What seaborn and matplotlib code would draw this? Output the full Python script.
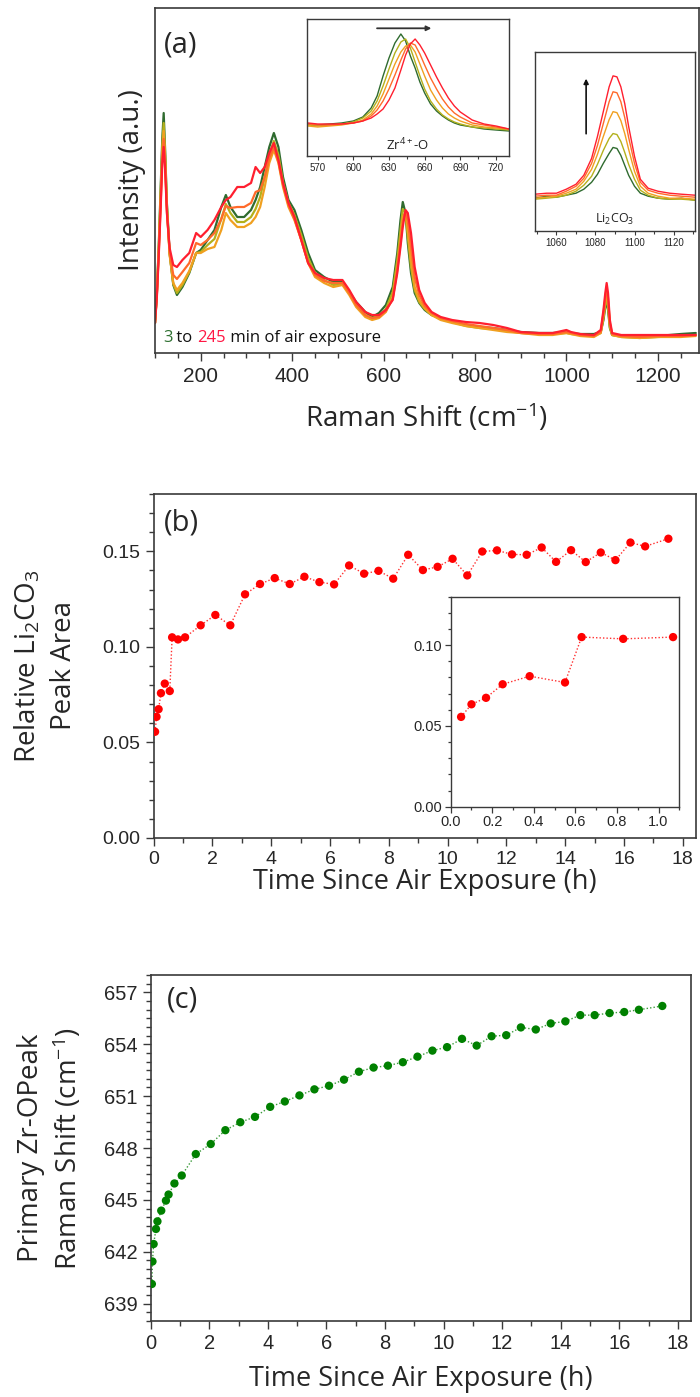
import numpy as np
import pandas as pd
import matplotlib
matplotlib.use('Agg')
import matplotlib.pyplot as plt
import seaborn as sns
from matplotlib.ticker import MultipleLocator, FormatStrFormatter, FixedLocator

# ---------------- DATA ----------------
exposure_labels = ['3 min', '60 min', '120 min', '180 min', '245 min']
exposure_colors = ['#2f6b2f', '#b3b01c', '#f0a020', '#ff6a2a', '#ff1f2f']

# main Raman spectra (a)
raman_shift = [100, 104, 108, 112, 116, 119, 122, 126, 132, 140,
               148, 160, 175, 190, 200, 215, 230, 245, 255, 265,
               280, 295, 310, 320, 330, 340, 350, 360, 370, 380,
               392, 405, 420, 435, 450, 470, 490, 510, 525, 540,
               560, 575, 590, 605, 620, 630, 637, 642, 648, 653,
               660, 668, 678, 690, 705, 725, 750, 780, 810, 840,
               870, 900, 940, 970, 1000, 1010, 1030, 1060, 1075, 1081,
               1085, 1088, 1091, 1095, 1100, 1120, 1160, 1200, 1250, 1283]
int_3min = [30, 60, 105, 160, 215, 240, 205, 150, 100, 68,
            58, 66, 80, 100, 103, 113, 123, 146, 158, 146,
            136, 136, 143, 153, 166, 186, 206, 220, 206, 176,
            153, 143, 123, 100, 83, 76, 71, 71, 61, 51,
            41, 36, 40, 48, 66, 100, 133, 151, 140, 110,
            80, 60, 50, 43, 38, 35, 31, 28, 26, 25,
            23, 21, 20, 20, 21, 20, 19, 19, 21, 33,
            46, 51, 43, 25, 18, 17, 16, 17, 19, 20]
int_60min = [30, 59, 103, 155, 208, 230, 200, 148, 99, 69,
             60, 68, 81, 100, 101, 108, 114, 134, 149, 140,
             131, 131, 136, 144, 156, 176, 198, 212, 198, 171,
             150, 138, 118, 95, 80, 73, 68, 69, 60, 48,
             38, 35, 37, 44, 61, 93, 123, 144, 140, 116,
             86, 63, 51, 44, 38, 34, 31, 27, 25, 24,
             22, 20, 19, 19, 20, 19, 18, 17, 20, 35,
             48, 55, 47, 26, 18, 16, 15, 16, 17, 18]
int_120min = [30, 58, 100, 150, 200, 222, 195, 145, 98, 70,
              63, 70, 82, 100, 100, 104, 106, 123, 140, 133,
              126, 126, 130, 136, 146, 166, 190, 203, 190, 166,
              146, 133, 113, 90, 76, 70, 66, 68, 58, 46,
              36, 33, 35, 41, 56, 86, 113, 136, 141, 123,
              93, 66, 53, 45, 38, 33, 30, 27, 25, 23,
              21, 20, 18, 18, 20, 19, 17, 16, 20, 38,
              51, 60, 51, 28, 18, 16, 15, 16, 16, 17]
int_180min = [30, 57, 98, 145, 195, 214, 190, 142, 101, 78,
              74, 81, 90, 110, 108, 113, 120, 134, 147, 145,
              146, 146, 150, 161, 163, 176, 195, 206, 191, 168,
              148, 134, 113, 90, 78, 72, 70, 70, 60, 48,
              38, 35, 36, 42, 54, 83, 110, 131, 142, 132,
              107, 76, 58, 47, 40, 35, 32, 29, 27, 25,
              23, 20, 19, 19, 21, 20, 18, 17, 21, 40,
              55, 65, 55, 30, 19, 17, 16, 17, 17, 18]
int_245min = [30, 55, 95, 140, 190, 206, 185, 140, 105, 88,
              86, 93, 100, 120, 116, 123, 133, 146, 153, 156,
              166, 166, 170, 186, 180, 186, 200, 210, 193, 170,
              150, 136, 113, 90, 80, 75, 73, 73, 63, 51,
              41, 38, 38, 43, 53, 80, 106, 126, 143, 140,
              120, 86, 63, 50, 41, 36, 33, 31, 30, 28,
              25, 21, 20, 20, 23, 21, 19, 18, 23, 43,
              60, 70, 60, 33, 20, 18, 18, 18, 18, 18]

# Zr-O inset
zr_shift = [562, 570, 580, 590, 600, 608, 615, 620, 625, 630, 635, 640, 644, 648,
            652, 656, 660, 665, 670, 675, 680, 685, 690, 700, 710, 720, 731]
zr_3min = [32, 31, 32, 33, 35, 39, 48, 60, 80, 98, 113, 122, 115, 100,
           88, 74, 63, 52, 45, 40, 36, 33, 31, 29, 27, 26, 25]
zr_60min = [31, 30, 31, 32, 34, 38, 45, 55, 70, 87, 103, 114, 117, 108,
            94, 80, 67, 55, 47, 41, 37, 34, 32, 29, 28, 27, 26]
zr_120min = [30, 29, 30, 31, 33, 36, 42, 50, 62, 77, 92, 104, 110, 111,
             104, 92, 80, 66, 56, 48, 42, 38, 35, 31, 29, 28, 27]
zr_180min = [32, 31, 31, 32, 33, 35, 40, 46, 55, 67, 81, 96, 107, 113,
             111, 102, 91, 78, 67, 57, 49, 43, 39, 33, 31, 29, 27]
zr_245min = [33, 32, 32, 32, 33, 35, 38, 42, 47, 56, 68, 86, 101, 112,
             117, 111, 103, 91, 79, 68, 58, 50, 44, 36, 32, 30, 27]

# Li2CO3 inset
li_shift = [1049, 1055, 1060, 1065, 1070, 1074, 1078, 1081, 1084, 1087, 1089,
            1091, 1093, 1095, 1097, 1100, 1103, 1107, 1112, 1118, 1124, 1131]
li_3min = [33, 35, 34, 36, 38, 42, 49, 57, 68, 78, 84, 83, 76, 66, 56, 45, 38, 35, 33, 32, 33, 31]
li_60min = [32, 33, 34, 36, 40, 46, 55, 67, 81, 93, 98, 97, 90, 79, 67, 52, 41, 36, 33, 32, 32, 31]
li_120min = [33, 34, 35, 38, 42, 50, 62, 77, 95, 112, 120, 119, 111, 98, 82, 60, 45, 38, 35, 33, 33, 32]
li_180min = [35, 36, 36, 40, 45, 53, 68, 86, 108, 130, 140, 139, 130, 114, 94, 68, 49, 41, 38, 36, 35, 34]
li_245min = [37, 38, 38, 42, 47, 56, 73, 95, 120, 145, 156, 155, 145, 128, 105, 75, 52, 43, 40, 38, 37, 36]

# (b) relative Li2CO3 peak area
time_b = [0.05, 0.10, 0.17, 0.25, 0.38, 0.55, 0.63, 0.83, 1.07, 1.60,
          2.10, 2.61, 3.11, 3.62, 4.12, 4.63, 5.13, 5.64, 6.14, 6.65,
          7.16, 7.65, 8.15, 8.66, 9.16, 9.66, 10.17, 10.67, 11.18, 11.68,
          12.19, 12.69, 13.20, 13.69, 14.20, 14.70, 15.21, 15.71, 16.22, 16.72, 17.51]
area_b = [0.0556, 0.0634, 0.0674, 0.0758, 0.0808, 0.0769, 0.1050, 0.1039, 0.1050, 0.1113,
          0.1167, 0.1113, 0.1275, 0.1329, 0.1360, 0.1329, 0.1367, 0.1339, 0.1327, 0.1426,
          0.1383, 0.1398, 0.1357, 0.1482, 0.1402, 0.1419, 0.1461, 0.1374, 0.1499, 0.1505,
          0.1484, 0.1482, 0.1520, 0.1445, 0.1506, 0.1444, 0.1494, 0.1454, 0.1546, 0.1526, 0.1566]
time_b_inset = time_b[:9]
area_b_inset = area_b[:9]

# (c) primary Zr-O peak position
time_c = [0.04, 0.06, 0.10, 0.18, 0.23, 0.36, 0.52, 0.61, 0.81, 1.06,
          1.54, 2.05, 2.55, 3.06, 3.56, 4.08, 4.58, 5.08, 5.59, 6.09,
          6.60, 7.11, 7.61, 8.10, 8.61, 9.11, 9.62, 10.12, 10.63, 11.13,
          11.64, 12.14, 12.64, 13.15, 13.66, 14.16, 14.67, 15.16, 15.67, 16.17,
          16.67, 17.47]
shift_c = [640.14, 641.44, 642.45, 643.32, 643.76, 644.38, 644.96, 645.31, 645.95, 646.41,
           647.65, 648.23, 649.03, 649.49, 649.80, 650.38, 650.69, 651.04, 651.39, 651.60,
           651.95, 652.41, 652.65, 652.76, 652.96, 653.28, 653.63, 653.83, 654.31, 653.92,
           654.46, 654.52, 654.97, 654.85, 655.20, 655.32, 655.68, 655.68, 655.80, 655.86,
           655.99, 656.21]

# ---------------- STYLE ----------------
sns.set_theme(style='white')
plt.rcParams['font.family'] = ['Liberation Sans', 'DejaVu Sans']
plt.rcParams['mathtext.fontset'] = 'custom'
plt.rcParams['mathtext.rm'] = 'Open Sans'
plt.rcParams['mathtext.it'] = 'Open Sans:italic'
plt.rcParams['mathtext.bf'] = 'Open Sans:bold'

LABEL_FONT = ['Open Sans', 'DejaVu Sans']
W, H = 700, 1397
fig = plt.figure(figsize=(7.0, 13.97), dpi=100)

def rect(l, t, r, b):
    return [l / W, 1 - b / H, (r - l) / W, (b - t) / H]

SPINE = '#3a3a3a'
def style_axes(ax, lw=1.2):
    for s in ax.spines.values():
        s.set_color(SPINE)
        s.set_linewidth(lw)
        s.set_visible(True)

def place_labels(ax, xy_x, xy_y):
    ax.xaxis.set_label_coords(*xy_x)
    ax.yaxis.set_label_coords(*xy_y)
    ax.xaxis.label.set_verticalalignment('center')
    ax.yaxis.label.set_verticalalignment('center')

def long_df(x, series, labels, xname, yname):
    return pd.DataFrame({
        xname: np.tile(np.asarray(x, float), len(series)),
        yname: np.concatenate([np.asarray(s, float) for s in series]),
        'exposure': np.repeat(labels, len(x)),
    })

pal = dict(zip(exposure_labels, exposure_colors))

# ---------------- (a) ----------------
axa = fig.add_axes(rect(155, 8, 699, 353))
spec = long_df(raman_shift, [int_3min, int_60min, int_120min, int_180min, int_245min],
               exposure_labels, 'shift', 'intensity')
sns.lineplot(data=spec, x='shift', y='intensity', hue='exposure', hue_order=exposure_labels,
             palette=pal, estimator=None, sort=False, lw=1.6, legend=False, ax=axa)
axa.set_xlim(100, 1290)
axa.set_ylim(0, 345)
axa.set_yticks([])
axa.xaxis.set_major_locator(FixedLocator([200, 400, 600, 800, 1000, 1200]))
axa.xaxis.set_minor_locator(MultipleLocator(50))
axa.tick_params(axis='x', which='major', direction='out', length=6, width=1, color=SPINE,
                labelsize=15, pad=4, bottom=True)
axa.tick_params(axis='x', which='minor', direction='out', length=3.5, width=1, color=SPINE, bottom=True)
style_axes(axa)
axa.set_xlabel('Raman Shift (cm$^{-1}$)', fontsize=20, family=LABEL_FONT)
axa.set_ylabel('Intensity (a.u.)', fontsize=20, family=LABEL_FONT)
place_labels(axa, (0.5, -0.188), (-0.042, 0.5))
axa.text(0.048, 0.893, '(a)', transform=axa.transAxes, fontsize=21, ha='center', va='center',
         family=LABEL_FONT)
t1 = axa.text(0.0147, 0.043, '3', transform=axa.transAxes, fontsize=12, color='#2e7031',
              ha='left', va='center', family=LABEL_FONT)
t2 = axa.annotate(' to ', xy=(1, 0), xycoords=t1, va='bottom', fontsize=12, color='#111111',
                  family=LABEL_FONT)
t3 = axa.annotate('245', xy=(1, 0), xycoords=t2, va='bottom', fontsize=12, color='#ff1744',
                  family=LABEL_FONT)
axa.annotate(' min of air exposure', xy=(1, 0), xycoords=t3, va='bottom', fontsize=12,
             color='#111111', family=LABEL_FONT)

# Zr-O inset
axz = fig.add_axes(rect(307, 19, 509, 156))
zr = long_df(zr_shift, [zr_3min, zr_60min, zr_120min, zr_180min, zr_245min],
             exposure_labels, 'shift', 'intensity')
sns.lineplot(data=zr, x='shift', y='intensity', hue='exposure', hue_order=exposure_labels,
             palette=pal, estimator=None, sort=False, lw=1.0, legend=False, ax=axz)
axz.set_xlim(561, 731)
axz.set_ylim(0, 137)
axz.set_yticks([])
axz.xaxis.set_major_locator(FixedLocator([570, 600, 630, 660, 690, 720]))
axz.xaxis.set_minor_locator(MultipleLocator(15))
axz.tick_params(axis='x', which='major', direction='out', length=3, width=0.8, color=SPINE,
                labelsize=7, pad=2, bottom=True)
axz.tick_params(axis='x', which='minor', direction='out', length=2, width=0.8, color=SPINE, bottom=True)
axz.set_xlabel('')
axz.set_ylabel('')
style_axes(axz, 1.0)
axz.text(645.6, 11, 'Zr$^{4+}$-O', fontsize=9.5, ha='center', va='center', color='#222222',
         family=LABEL_FONT)
axz.annotate('', xy=(668, 127.7), xytext=(617.6, 127.7),
             arrowprops=dict(arrowstyle='-|>', color='#333333', lw=1.3, mutation_scale=7))

# Li2CO3 inset
axl = fig.add_axes(rect(535, 52, 695, 231))
li = long_df(li_shift, [li_3min, li_60min, li_120min, li_180min, li_245min],
             exposure_labels, 'shift', 'intensity')
sns.lineplot(data=li, x='shift', y='intensity', hue='exposure', hue_order=exposure_labels,
             palette=pal, estimator=None, sort=False, lw=1.0, legend=False, ax=axl)
axl.set_xlim(1049, 1131)
axl.set_ylim(0, 180)
axl.set_yticks([])
axl.xaxis.set_major_locator(FixedLocator([1060, 1080, 1100, 1120]))
axl.xaxis.set_minor_locator(MultipleLocator(10))
axl.tick_params(axis='x', which='major', direction='out', length=3, width=0.8, color=SPINE,
                labelsize=7, pad=2, bottom=True)
axl.tick_params(axis='x', which='minor', direction='out', length=2, width=0.8, color=SPINE, bottom=True)
axl.set_xlabel('')
axl.set_ylabel('')
style_axes(axl, 1.0)
axl.text(1090, 12, 'Li$_2$CO$_3$', fontsize=9, ha='center', va='center', color='#222222',
         family=LABEL_FONT)
axl.annotate('', xy=(1075.2, 156), xytext=(1075.2, 95),
             arrowprops=dict(arrowstyle='-|>', color='#111111', lw=1.2, mutation_scale=7))

# ---------------- (b) ----------------
def scatter_line(ax, x, y, color, linecolor, ms=36):
    df = pd.DataFrame({'x': x, 'y': y})
    sns.lineplot(data=df, x='x', y='y', color=linecolor, lw=1.0, ls=(0, (1, 1.5)),
                 estimator=None, sort=False, ax=ax)
    sns.scatterplot(data=df, x='x', y='y', color=color, s=ms, edgecolor='none',
                    linewidth=0, ax=ax, zorder=3)
    ax.set_xlabel('')
    ax.set_ylabel('')

axb = fig.add_axes(rect(153.6, 494, 696, 838))
scatter_line(axb, time_b, area_b, '#ff0000', '#ff3030')
axb.set_xlim(0, 18.45)
axb.set_ylim(0, 0.18)
axb.xaxis.set_major_locator(FixedLocator(list(range(0, 19, 2))))
axb.xaxis.set_minor_locator(MultipleLocator(1))
axb.yaxis.set_major_locator(FixedLocator([0, 0.05, 0.10, 0.15]))
axb.yaxis.set_minor_locator(MultipleLocator(0.01))
axb.yaxis.set_major_formatter(FormatStrFormatter('%.2f'))
for axis in ('x', 'y'):
    axb.tick_params(axis=axis, which='major', direction='out', length=6, width=1, color=SPINE,
                    labelsize=14, bottom=True, left=True)
    axb.tick_params(axis=axis, which='minor', direction='out', length=3.5, width=1, color=SPINE,
                    bottom=True, left=True)
style_axes(axb)
axb.set_ylabel('Relative Li$_2$CO$_3$\nPeak Area', fontsize=20, linespacing=1.35, family=LABEL_FONT)
axb.set_xlabel('Time Since Air Exposure (h)', fontsize=19.5, family=LABEL_FONT)
place_labels(axb, (0.5, -0.128), (-0.200, 0.5))
axb.text(0.052, 0.916, '(b)', transform=axb.transAxes, fontsize=21, ha='center', va='center',
         family=LABEL_FONT)

axbi = fig.add_axes(rect(450.7, 596.7, 679.3, 806.7))
scatter_line(axbi, time_b_inset, area_b_inset, '#ff0000', '#ff3030')
axbi.set_xlim(0, 1.1)
axbi.set_ylim(0, 0.13)
axbi.xaxis.set_major_locator(FixedLocator([0, 0.2, 0.4, 0.6, 0.8, 1.0]))
axbi.xaxis.set_minor_locator(MultipleLocator(0.1))
axbi.xaxis.set_major_formatter(FormatStrFormatter('%.1f'))
axbi.yaxis.set_major_locator(FixedLocator([0, 0.05, 0.10]))
axbi.yaxis.set_minor_locator(MultipleLocator(0.01))
axbi.yaxis.set_major_formatter(FormatStrFormatter('%.2f'))
for axis in ('x', 'y'):
    axbi.tick_params(axis=axis, which='major', direction='out', length=4, width=0.9, color=SPINE,
                     labelsize=10.5, pad=2, bottom=True, left=True)
    axbi.tick_params(axis=axis, which='minor', direction='out', length=2.5, width=0.9, color=SPINE,
                     bottom=True, left=True)
style_axes(axbi, 1.0)

# ---------------- (c) ----------------
axc = fig.add_axes(rect(150.7, 975, 691, 1321))
scatter_line(axc, time_c, shift_c, '#008000', '#3a9a3a')
axc.set_xlim(0, 18.45)
axc.set_ylim(638, 658)
axc.xaxis.set_major_locator(FixedLocator(list(range(0, 19, 2))))
axc.xaxis.set_minor_locator(MultipleLocator(1))
axc.yaxis.set_major_locator(FixedLocator([639, 642, 645, 648, 651, 654, 657]))
axc.yaxis.set_minor_locator(MultipleLocator(0.5))
for axis in ('x', 'y'):
    axc.tick_params(axis=axis, which='major', direction='out', length=6, width=1, color=SPINE,
                    labelsize=14.5, bottom=True, left=True)
    axc.tick_params(axis=axis, which='minor', direction='out', length=3.5, width=1, color=SPINE,
                    bottom=True, left=True)
style_axes(axc)
axc.set_ylabel('Primary Zr-OPeak\nRaman Shift (cm$^{-1}$)', fontsize=20, linespacing=1.25,
               family=LABEL_FONT)
axc.set_xlabel('Time Since Air Exposure (h)', fontsize=19.5, family=LABEL_FONT)
place_labels(axc, (0.5, -0.168), (-0.186, 0.5))
axc.text(0.058, 0.928, '(c)', transform=axc.transAxes, fontsize=21, ha='center', va='center',
         family=LABEL_FONT)

fig.savefig('out.png', dpi=100)
